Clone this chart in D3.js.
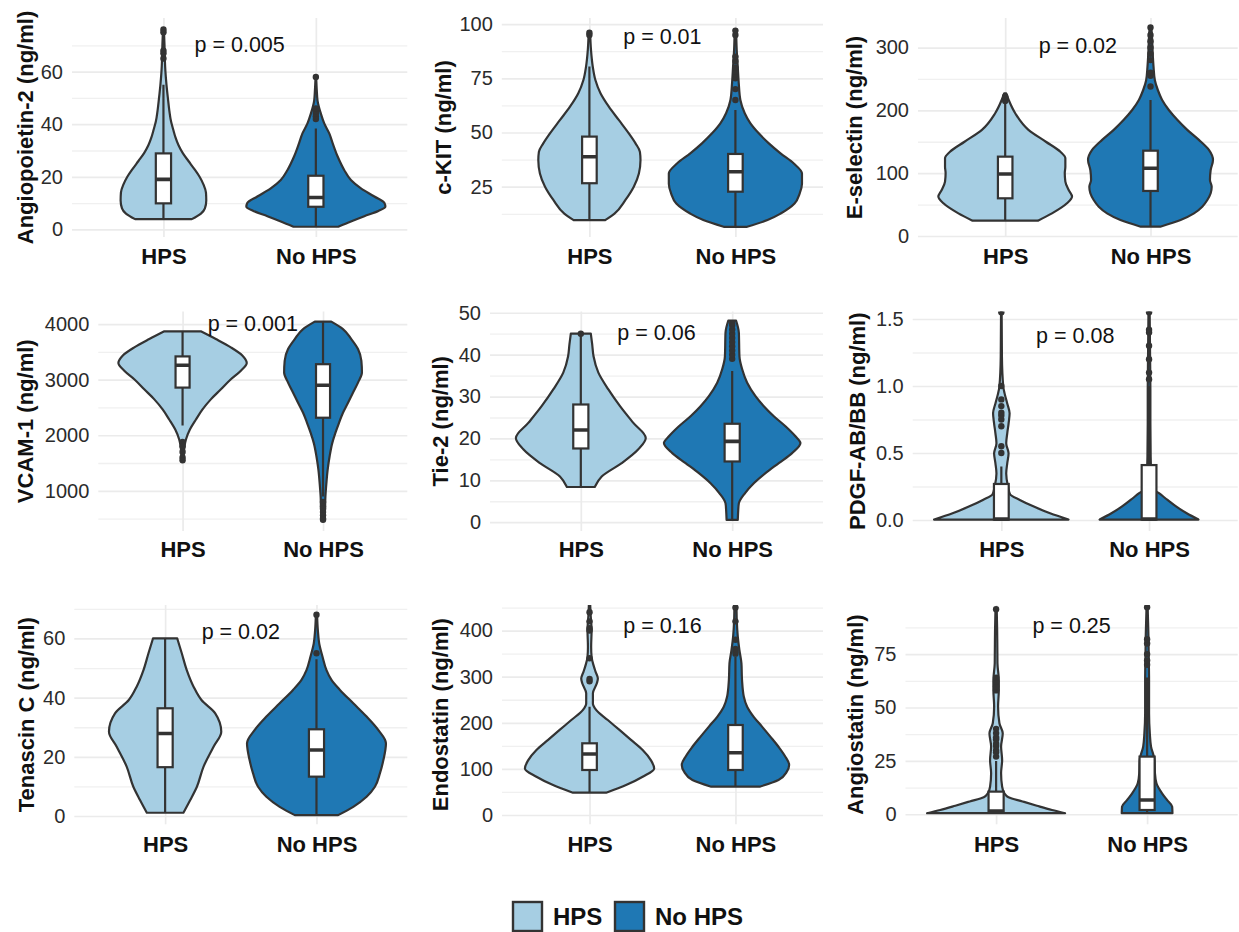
<!DOCTYPE html>
<html><head><meta charset="utf-8">
<script src="https://cdn.jsdelivr.net/npm/d3@7"></script>
<style>
html,body{margin:0;padding:0;background:#fff;}
svg{display:block;font-family:"Liberation Sans",Arial,Helvetica,sans-serif;}
</style></head><body>
<svg id="chart" width="1239" height="932"></svg>
<script>
// ---------------- DATA ----------------
const groups = ["HPS", "No HPS"];
const markerNames = ["Angiopoietin-2 (ng/ml)", "c-KIT (ng/ml)", "E-selectin (ng/ml)",
  "VCAM-1 (ng/ml)", "Tie-2 (ng/ml)", "PDGF-AB/BB (ng/ml)",
  "Tenascin C (ng/ml)", "Endostatin (ng/ml)", "Angiostatin (ng/ml)"];
const pLabels = ["p = 0.005", "p = 0.01", "p = 0.02", "p = 0.001", "p = 0.06", "p = 0.08", "p = 0.02", "p = 0.16", "p = 0.25"];
const pLabelValue = [70.2, 94.2, 304, 4002, 45.3, 1.38, 62.3, 412, 88.2];
const yTickValues = [[0,20,40,60],[25,50,75,100],[0,100,200,300],[1000,2000,3000,4000],[0,10,20,30,40,50],[0,0.5,1.0,1.5],[0,20,40,60],[0,100,200,300,400],[0,25,50,75]];
const yMinorValues = [[10,30,50,70],[12.5,37.5,62.5,87.5],[50,150,250],[500,1500,2500,3500],[5,15,25,35,45],[0.25,0.75,1.25],[10,30,50,70],[50,150,250,350,450],[12.5,37.5,62.5,87.5]];
const yDomains = [[-2.9,80.4],[1.8,102.8],[-1.6,347],[277,4226],[-2.1,50.3],[-0.082,1.556],[-2.8,71.3],[-20.2,455.5],[-4.7,98.0]];

// violin profiles: [value, half-width in category units]
const ang2HPS = [[3.9,.186],[6,.246],[8,.272],[11,.281],[14,.279],[17,.263],[20,.237],[23,.202],[26,.164],[29,.127],[32,.099],[35,.079],[38,.064],[41,.05],[45,.039],[50,.029],[55,.02],[60,.013],[65,.009],[70,.007],[76,.003]];
const ang2No = [[1.0,.147],[3,.23],[5,.318],[7,.41],[8.6,.456],[10,.45],[12.5,.384],[15.6,.296],[18.8,.23],[22.6,.186],[27.7,.143],[32.8,.11],[36.5,.088],[40.3,.055],[44,.033],[49,.011],[53,.006],[58,.002]];
const ckitHPS = [[9.6,.108],[12.6,.172],[18.9,.247],[25,.304],[31.1,.339],[37.3,.35],[41.1,.346],[45,.316],[49.6,.27],[55.8,.201],[61.9,.133],[68.1,.076],[74.2,.041],[80.4,.023],[88,.011],[96.2,.005]];
const ckitNo = [[6.5,.08],[9.6,.22],[12.6,.31],[17.2,.405],[21.8,.44],[26.4,.456],[31.1,.456],[35.7,.4],[40.4,.309],[45,.229],[49.6,.16],[54.2,.103],[58.9,.064],[65,.034],[72.7,.023],[80.4,.016],[88,.009],[97.3,.005]];
const eselHPS = [[24.4,.225],[36,.322],[52,.425],[62.7,.46],[73.3,.437],[86.6,.414],[99.8,.41],[110.4,.414],[123.7,.414],[134,.38],[150,.28],[169,.16],[195,.07],[216,.025],[227,.007]];
const eselNo = [[14.8,.067],[25.4,.207],[36,.299],[46.6,.356],[57.3,.391],[68,.414],[78.5,.421],[89,.409],[105,.414],[121,.43],[137,.402],[153,.333],[169,.253],[185,.184],[200.6,.126],[216.5,.08],[232,.051],[248,.03],[269,.021],[296,.014],[323,.009],[331.7,.005]];
const vcamHPS = [[1561,.007],[1800,.014],[1922,.024],[2102,.052],[2283,.095],[2464,.142],[2645,.201],[2826,.273],[3007,.344],[3160,.415],[3300,.457],[3430,.427],[3580,.344],[3730,.237],[3870,.13]];
const vcamNo = [[476,.009],[656,.014],[898,.017],[1139,.024],[1380,.033],[1621,.047],[1862,.066],[2043,.088],[2224,.114],[2404,.142],[2585,.178],[2766,.213],[2947,.249],[3128,.277],[3340,.273],[3550,.249],[3730,.201],[3910,.142],[4044,.059]];
const tie2HPS = [[8.4,.092],[10.9,.138],[14.1,.27],[17.4,.38],[20.1,.429],[23.7,.347],[27.7,.259],[31.7,.182],[35.7,.116],[39.6,.084],[42.5,.075],[45,.066]];
const tie2No = [[0.55,.037],[2.9,.04],[4.5,.044],[6.9,.084],[9.3,.143],[11.7,.22],[14.1,.308],[16.5,.396],[18.9,.451],[20.5,.418],[22.9,.352],[25.3,.275],[27.7,.209],[30.1,.154],[33.3,.099],[36.5,.066],[39.6,.048],[45.3,.044],[48.1,.026]];
const pdgfHPS = [[0.003,.455],[0.05,.33],[0.1,.22],[0.15,.125],[0.19,.06],[0.25,.045],[0.348,.033],[0.423,.04],[0.498,.049],[0.572,.033],[0.647,.04],[0.72,.049],[0.796,.056],[0.87,.04],[0.945,.022],[0.995,.013],[1.22,.004],[1.554,.002]];
const pdgfNo = [[0.003,.335],[0.05,.255],[0.1,.185],[0.15,.125],[0.2,.067],[0.23,.03],[0.3,.018],[0.47,.011],[0.72,.009],[0.97,.009],[1.22,.007],[1.554,.004]];
const tencHPS = [[1.1,.121],[5.4,.166],[9.9,.21],[16.7,.254],[23.4,.32],[28.5,.371],[34.7,.331],[39.2,.24],[43.7,.188],[49.3,.143],[55,.11],[60,.08]];
const tencNo = [[0.3,.143],[3.1,.243],[6.5,.331],[9.9,.386],[14.4,.419],[18.9,.442],[24.6,.459],[29.1,.408],[33.6,.331],[38.1,.243],[42.6,.155],[46,.099],[49.3,.066],[53.8,.04],[58.3,.018],[62.8,.009],[67.9,.004]];
const endoHPS = [[48.4,.114],[65,.25],[83,.364],[101,.443],[119,.42],[141,.364],[163,.284],[184.5,.205],[206,.125],[228,.045],[242,.023],[264,.023],[285.6,.05],[296,.057],[311,.041],[325,.027],[343,.014],[365,.011],[401,.014],[437,.007],[452,.005],[470,.004]];
const endoNo = [[61.4,.166],[76,.295],[94,.352],[108.7,.368],[127,.341],[148,.295],[170,.239],[191.7,.182],[213,.125],[235,.08],[257,.057],[293,.045],[329,.041],[358,.027],[387,.016],[423,.009],[452,.007],[470,.005]];
const angsHPS = [[0.5,.457],[2,.37],[4,.27],[6,.175],[8,.082],[9.8,.055],[12.9,.04],[19.2,.033],[25.4,.04],[31.7,.033],[37.9,.044],[42.6,.022],[50.4,.013],[58.2,.018],[62.9,.018],[70.7,.009],[86.3,.007],[96.4,.004]];
const angsNo = [[0.5,.168],[3.6,.166],[6.7,.132],[9.8,.099],[14.5,.062],[19.2,.052],[25.4,.049],[31.7,.026],[37.9,.018],[47.3,.013],[62.9,.013],[73.8,.011],[83.2,.009],[97.2,.004],[105,.003]];

// box stats: [lower whisker, Q1, median, Q3, upper whisker]
const boxHPS = [[3.9,9.9,19.0,28.9,55],[9.6,26.6,38.8,48.1,80.4],[24.4,60,98.7,126.3,211.3],[2175,2857,3260,3418,3870],[8.4,17.6,22.0,28.1,44.5],[0,0.003,0.008,0.269,0.4],[1.1,16.5,27.9,36.4,60],[48.4,97.6,132.3,155.5,235],[0.5,0.8,1.5,10.6,25]];
const boxNo = [[1.0,8.6,12.1,20.4,38.4],[6.5,22.7,31.9,40.1,60.4],[14.8,71.7,107.8,135.8,216.5],[898,2315,2899,3278,4044],[0.55,14.5,19.3,23.5,36.1],[0,0.003,0.008,0.41,1.0],[0.3,13.3,22.3,29.3,53],[61.4,97.6,135.1,195.2,343],[0.5,2,6.7,27,64]];
// outliers
const outHPS = [[65,67,68,75,76],[95,96],[215,218,220,222],[1880,1800,1700,1600,1550],[45],[0.5,0.55,0.7,0.75,0.78,0.8,0.85,0.9,1.0,1.55],[],[290,295,340,400,405,420,440],[27,29,30,32,33,35,36,38,40,58,60,62,64,96]];
const outNo = [[42,43,44,45,46,58],[65,70,75,76,77,78,80,83,85,95,97],[238,255,260,280,290,300,310,320,332],[800,720,680,620,560,500,480],[39,40,41,42,43,44,45,46,47,47.5],[1.05,1.1,1.2,1.3,1.4,1.42,1.55],[55,68],[350,355,360,380,420,450],[70,72,75,80,82,97]];

const violinHPS = [ang2HPS, ckitHPS, eselHPS, vcamHPS, tie2HPS, pdgfHPS, tencHPS, endoHPS, angsHPS];
const violinNo = [ang2No, ckitNo, eselNo, vcamNo, tie2No, pdgfNo, tencNo, endoNo, angsNo];

// ---------------- LAYOUT / STYLE ----------------
const colors = ["#A6CEE3", "#1F78B4"];
const INK = "#333333";
const rows = [{t:18, b:237, xl:256.5}, {t:311.5, b:531, xl:549.5}, {t:605, b:824.3, xl:844.5}];
const layout = [
  {l:72, r:407.3, row:0, tx:25}, {l:501.8, r:823, row:0, tx:443}, {l:918, r:1237.7, row:0, tx:854},
  {l:98.3, r:407.3, row:1, tx:25}, {l:490, r:823, row:1, tx:440.5}, {l:912.7, r:1237.7, row:1, tx:857},
  {l:74.3, r:407.3, row:2, tx:26}, {l:502, r:823, row:2, tx:440}, {l:905.5, r:1237.7, row:2, tx:855.5}
];
const LW = 2.2;

const svg = d3.select("#chart");
svg.append("rect").attr("width",1239).attr("height",932).attr("fill","#fff");
const defs = svg.append("defs");

markerNames.forEach((name, i) => {
  const L = layout[i], R = rows[L.row];
  const x = d3.scaleLinear().domain([0.4, 2.6]).range([L.l, L.r]);
  const y = d3.scaleLinear().domain(yDomains[i]).range([R.b, R.t]);
  const g = svg.append("g");
  const w = L.r - L.l, h = R.b - R.t;

  // minor grid
  g.append("g").attr("transform", `translate(${L.l},0)`)
    .call(d3.axisLeft(y).tickValues(yMinorValues[i]).tickSize(-w).tickFormat(""))
    .call(s => { s.select(".domain").remove(); s.selectAll("line").attr("stroke","#F0F0F0").attr("stroke-width",1.3); });
  // major grid
  g.append("g").attr("transform", `translate(${L.l},0)`)
    .call(d3.axisLeft(y).tickValues(yTickValues[i]).tickSize(-w).tickFormat(""))
    .call(s => { s.select(".domain").remove(); s.selectAll("line").attr("stroke","#EBEBEB").attr("stroke-width",1.7); });
  // vertical grid
  g.append("g").attr("transform", `translate(0,${R.b})`)
    .call(d3.axisBottom(x).tickValues([1,2]).tickSize(-h).tickFormat(""))
    .call(s => { s.select(".domain").remove(); s.selectAll("line").attr("stroke","#EBEBEB").attr("stroke-width",1.7); });

  // y tick labels
  const fmt = i === 5 ? d3.format(".1f") : d3.format("");
  g.append("g").attr("transform", `translate(${L.l},0)`)
    .call(d3.axisLeft(y).tickValues(yTickValues[i]).tickSize(0).tickPadding(9).tickFormat(fmt))
    .call(s => { s.select(".domain").remove();
      s.selectAll("text").attr("fill", "#2b2b2b").attr("font-size", 20).attr("font-family", '"Liberation Sans",Arial,sans-serif'); });

  // x labels
  g.append("g").attr("transform", `translate(0,${R.b})`)
    .call(d3.axisBottom(x).tickValues([1,2]).tickSize(0).tickFormat(d => groups[d-1]))
    .call(s => { s.select(".domain").remove();
      s.selectAll("text").attr("y", R.xl - R.b).attr("dy","0.35em").attr("fill","#111").attr("font-size",22)
       .attr("font-weight","bold").attr("font-family", '"Liberation Sans",Arial,sans-serif'); });

  // y title
  g.append("text").attr("transform", `translate(${L.tx},${(R.t+R.b)/2}) rotate(-90)`)
    .attr("text-anchor","middle").attr("dy","0.35em").attr("font-size",22).attr("font-weight","bold")
    .attr("fill","#111").text(name);

  // clip
  const cid = "clip" + i;
  defs.append("clipPath").attr("id", cid).append("rect").attr("x", L.l).attr("y", R.t).attr("width", w).attr("height", h);
  const pg = g.append("g").attr("clip-path", `url(#${cid})`);

  [violinHPS[i], violinNo[i]].forEach((prof, k) => {
    const c = k + 1;
    const area = d3.area()
      .y(d => y(d[0]))
      .x0(d => x(c - d[1]))
      .x1(d => x(c + d[1]))
      .curve(d3.curveMonotoneY);
    pg.append("path").attr("d", area(prof)).attr("fill", colors[k])
      .attr("stroke", INK).attr("stroke-width", LW).attr("stroke-linejoin","round");
  });

  [boxHPS[i], boxNo[i]].forEach((b, k) => {
    const c = k + 1, bw = 0.05;
    pg.append("line").attr("x1", x(c)).attr("x2", x(c)).attr("y1", y(b[0])).attr("y2", y(b[1]))
      .attr("stroke", INK).attr("stroke-width", LW);
    pg.append("line").attr("x1", x(c)).attr("x2", x(c)).attr("y1", y(b[3])).attr("y2", y(b[4]))
      .attr("stroke", INK).attr("stroke-width", LW);
    pg.append("rect").attr("x", x(c - bw)).attr("width", x(c + bw) - x(c - bw))
      .attr("y", y(b[3])).attr("height", Math.max(0, y(b[1]) - y(b[3])))
      .attr("fill", "#fff").attr("stroke", INK).attr("stroke-width", LW);
    pg.append("line").attr("x1", x(c - bw)).attr("x2", x(c + bw)).attr("y1", y(b[2])).attr("y2", y(b[2]))
      .attr("stroke", INK).attr("stroke-width", 3.6);
  });

  [outHPS[i], outNo[i]].forEach((pts, k) => {
    pg.selectAll(null).data(pts).enter().append("circle")
      .attr("cx", x(k + 1)).attr("cy", d => y(d)).attr("r", 3.2).attr("fill", INK);
  });

  // p-value
  g.append("text").attr("x", x(1.5)).attr("y", y(pLabelValue[i])).attr("dy","0.35em")
    .attr("text-anchor","middle").attr("font-size",21.5).attr("fill","#111").text(pLabels[i]);
});

// legend
const lg = svg.append("g");
const legendX = [513, 615];
groups.forEach((gname, k) => {
  lg.append("rect").attr("x", legendX[k]).attr("y", 902).attr("width", 29).attr("height", 29)
    .attr("fill", colors[k]).attr("stroke", INK).attr("stroke-width", 2.4);
  lg.append("text").attr("x", legendX[k] + 40).attr("y", 916.5).attr("dy","0.35em")
    .attr("font-size", 24).attr("font-weight","bold").attr("fill","#111").text(gname);
});
</script>
</body></html>
